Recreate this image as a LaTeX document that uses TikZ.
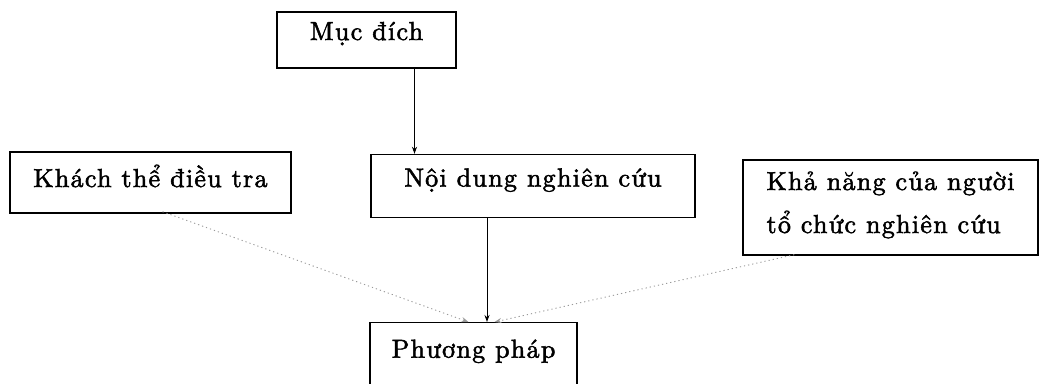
\documentclass[tikz,border=0pt]{standalone}
\usepackage{fontspec}
\newfontfamily\lmten{lmroman10-regular}[Extension=.otf,LetterSpace=5,FakeBold=2]
\usetikzlibrary{arrows.meta}
\begin{document}
\begin{tikzpicture}[x=1pt,y=-1pt,
  box/.style={draw, line width=1.4pt, rectangle, inner ysep=0pt, inner xsep=0pt, font=\lmten\fontsize{26}{43}\selectfont},
  arr/.style={line width=0.9pt, -{Stealth[length=7pt,width=5pt]}},
  dots/.style={gray!80, line width=0.9pt, dash pattern=on 1.2pt off 3pt, -{Stealth[length=7pt,width=5pt]}}]
\useasboundingbox (0,0) rectangle (1040,383);
\clip (0,0) rectangle (1040,383);
\node[box, minimum width=179pt, text height=28pt, text depth=28pt] (md) at (366.5,40) {Mục đích};
\node[box, minimum width=281pt, text height=35pt, text depth=26pt] (kt) at (150.5,182.5) {Khách thể điều tra};
\node[box, minimum width=324pt, text height=32pt, text depth=31pt] (nd) at (533,186) {Nội dung nghiên cứu};
\node[box, minimum width=295pt, text height=30pt, text depth=65pt] (kn) at (890.5,207.5) {\begin{tabular}[t]{@{}l@{}}Khả năng của người\\tổ chức nghiên cứu\end{tabular}};
\node[box, anchor=north, minimum width=207pt, text height=35pt, text depth=50pt] (pp) at (473.5,322) {Phương pháp};
\draw[arr] ([xshift=48pt]md.south) -- ([xshift=48pt]md.south |- nd.north);
\draw[arr] ([xshift=-46pt]nd.south) -- ([xshift=-46pt]nd.south |- pp.north);
\draw[dots] ([xshift=12pt,yshift=2pt]kt.south) -- ([xshift=-5pt]pp.north);
\draw[dots] ([xshift=52pt,yshift=1pt]kn.south west) -- ([xshift=21pt]pp.north);
\end{tikzpicture}
\end{document}
